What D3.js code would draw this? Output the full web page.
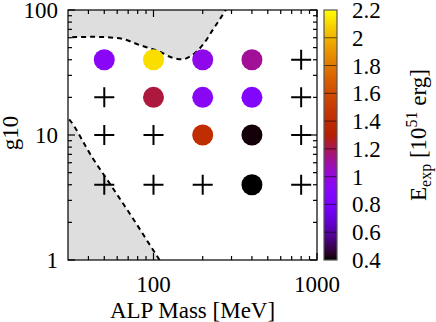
<!DOCTYPE html>
<html>
<head>
<meta charset="utf-8">
<script src="https://cdn.jsdelivr.net/npm/d3@7"></script>
<style>
  body { margin: 0; background: #fff; }
  svg { display: block; }
  text { font-family: "Liberation Serif", "DejaVu Serif", serif; fill: #000; }
</style>
</head>
<body>
<div id="chart"></div>
<script>
// grid of simulated models: ALP mass [MeV] x coupling g10
const masses = [50, 100, 200, 400, 800];
const couplings = [40, 20, 10, 4];
// explosion energy in 1e51 erg, null = no explosion (drawn as a cross)
const energy = [
  [0.92, 2.12, 0.97, 1.12, null],
  [null, 1.23, 0.93, 0.87, null],
  [null, null, 1.41, 0.41, null],
  [null, null, null, 0.40, null]
];

// excluded regions (dashed boundaries)
const upperMass = [28, 30, 42, 62, 82, 109, 131, 150, 173, 200, 230, 280, 300];
const upperG = [60.4, 60.5, 61, 59.4, 52.5, 46.4, 41.5, 40.3, 43.7, 52.5, 69, 103, 120];
const lowerMass = [28, 30, 42.4, 56.3, 74.5, 109, 115];
const lowerG = [15, 13.7, 6.55, 3.77, 2.17, 1.0, 0.9];

const xTickMajor = [100, 1000];
const xTickMinor = [40, 50, 60, 70, 80, 90, 200, 300, 400, 500, 600, 700, 800, 900];
const yTickMajor = [1, 10, 100];
const yTickMinor = [2, 3, 4, 5, 6, 7, 8, 9, 20, 30, 40, 50, 60, 70, 80, 90];
const cbTicks = [0.4, 0.6, 0.8, 1.0, 1.2, 1.4, 1.6, 1.8, 2.0, 2.2];

const width = 436, height = 322;
const margin = { top: 10, right: 119, bottom: 62, left: 68 };
const fs = 23;

// gnuplot default pm3d palette (rgbformulae 7,5,15)
function palette(t) {
  t = Math.max(0, Math.min(1, t));
  const r = Math.sqrt(t), g = t * t * t, b = Math.max(0, Math.sin(2 * Math.PI * t));
  return d3.rgb(r * 255, g * 255, b * 255).formatHex();
}
const cMin = 0.4, cMax = 2.2;
const colorOf = v => palette((v - cMin) / (cMax - cMin));

const svg = d3.select("#chart").append("svg")
  .attr("width", width).attr("height", height);

const x = d3.scaleLog().domain([30, 1000]).range([margin.left, width - margin.right]);
const y = d3.scaleLog().domain([1, 100]).range([height - margin.bottom, margin.top]);

const x0 = x.range()[0], x1 = x.range()[1];
const y0 = y.range()[0], y1 = y.range()[1];

svg.append("clipPath").attr("id", "plotclip")
  .append("rect").attr("x", x0).attr("y", y1).attr("width", x1 - x0).attr("height", y0 - y1);

const plot = svg.append("g").attr("clip-path", "url(#plotclip)");

// upper excluded region
const upperPts = upperMass.map((m, i) => [x(m), y(upperG[i])]);
const lineGen = d3.line().curve(d3.curveMonotoneX);
const upperArea = d3.area().curve(d3.curveMonotoneX)
  .x(d => d[0]).y0(y1 - 5).y1(d => d[1]);
plot.append("path").attr("d", upperArea(upperPts)).attr("fill", "#dedede");

// lower-left excluded region
const lowerPts = lowerMass.map((m, i) => [x(lowerMass[i]), y(lowerG[i])]);
const lowerArea = d3.area().curve(d3.curveMonotoneX)
  .x(d => d[0]).y0(y0 + 5).y1(d => d[1]);
plot.append("path").attr("d", lowerArea(lowerPts)).attr("fill", "#dedede");

plot.append("path").attr("d", lineGen(upperPts))
  .attr("fill", "none").attr("stroke", "#000").attr("stroke-width", 2).attr("stroke-dasharray", "5,4");
plot.append("path").attr("d", lineGen(lowerPts))
  .attr("fill", "none").attr("stroke", "#000").attr("stroke-width", 2).attr("stroke-dasharray", "5,4");

// model grid
const cells = [];
couplings.forEach((g, j) => masses.forEach((m, i) => cells.push({ m, g, e: energy[j][i] })));

const plus = 10;
svg.append("g").selectAll("path")
  .data(cells.filter(c => c.e === null))
  .join("path")
  .attr("d", c => `M${x(c.m) - plus},${y(c.g)}H${x(c.m) + plus}M${x(c.m)},${y(c.g) - plus}V${y(c.g) + plus}`)
  .attr("stroke", "#000").attr("stroke-width", 2);

svg.append("g").selectAll("circle")
  .data(cells.filter(c => c.e !== null))
  .join("circle")
  .attr("cx", c => x(c.m)).attr("cy", c => y(c.g)).attr("r", 10.5)
  .attr("fill", c => colorOf(c.e));

// frame and ticks
const axes = svg.append("g").attr("stroke", "#000").attr("stroke-width", 1.2);
axes.append("rect").attr("x", x0).attr("y", y1).attr("width", x1 - x0).attr("height", y0 - y1).attr("fill", "none");

const tick = (arr, len, horiz) => arr.forEach(v => {
  if (horiz) {
    const px = x(v);
    axes.append("line").attr("x1", px).attr("x2", px).attr("y1", y0).attr("y2", y0 - len);
    axes.append("line").attr("x1", px).attr("x2", px).attr("y1", y1).attr("y2", y1 + len);
  } else {
    const py = y(v);
    axes.append("line").attr("y1", py).attr("y2", py).attr("x1", x0).attr("x2", x0 + len);
    axes.append("line").attr("y1", py).attr("y2", py).attr("x1", x1).attr("x2", x1 - len);
  }
});
tick(xTickMajor, 7, true);
tick(xTickMinor, 4, true);
tick(yTickMajor, 7, false);
tick(yTickMinor, 4, false);

// tick labels
svg.append("g").selectAll("text").data(xTickMajor).join("text")
  .attr("x", d => x(d)).attr("y", y0 + 32)
  .attr("text-anchor", "middle").attr("font-size", fs).text(d => d);

svg.append("g").selectAll("text").data(yTickMajor).join("text")
  .attr("x", x0 - 10).attr("y", d => y(d) + 8)
  .attr("text-anchor", "end").attr("font-size", fs).text(d => d);

// axis titles
svg.append("text").attr("x", (x0 + x1) / 2).attr("y", 318)
  .attr("text-anchor", "middle").attr("font-size", fs).text("ALP Mass [MeV]");

svg.append("text").attr("transform", `translate(18,${(y0 + y1) / 2 - 2}) rotate(-90)`)
  .attr("text-anchor", "middle").attr("font-size", fs).text("g10");

// colour box
const cbX = 324, cbW = 13;
const cb = d3.scaleLinear().domain([cMin, cMax]).range([y0, y1]);
const grad = svg.append("defs").append("linearGradient").attr("id", "cbgrad")
  .attr("x1", 0).attr("y1", 1).attr("x2", 0).attr("y2", 0);
d3.range(0, 1.0001, 0.02).forEach(t => {
  grad.append("stop").attr("offset", t).attr("stop-color", palette(t));
});
svg.append("rect").attr("x", cbX).attr("y", y1).attr("width", cbW).attr("height", y0 - y1)
  .attr("fill", "url(#cbgrad)");
svg.append("g").selectAll("line").data(cbTicks.slice(1, -1)).join("line")
  .attr("x1", cbX).attr("x2", cbX + cbW)
  .attr("y1", d => cb(d)).attr("y2", d => cb(d))
  .attr("stroke", "#000").attr("stroke-opacity", 0.6).attr("stroke-width", 1);
svg.append("rect").attr("x", cbX).attr("y", y1).attr("width", cbW).attr("height", y0 - y1)
  .attr("fill", "none").attr("stroke", "#555").attr("stroke-width", 1.2);

svg.append("g").selectAll("text").data(cbTicks).join("text")
  .attr("x", 352).attr("y", d => cb(d) + 8)
  .attr("font-size", fs).text(d => String(+d.toFixed(1)));

const cbLabel = svg.append("text")
  .attr("transform", `translate(426,${(y0 + y1) / 2}) rotate(-90)`)
  .attr("text-anchor", "middle").attr("font-size", fs);
cbLabel.append("tspan").text("E");
cbLabel.append("tspan").attr("font-size", 16).attr("dy", 5).text("exp");
cbLabel.append("tspan").attr("dy", -5).text(" [10");
cbLabel.append("tspan").attr("font-size", 16).attr("dy", -9).text("51");
cbLabel.append("tspan").attr("dy", 9).text(" erg]");
</script>
</body>
</html>
